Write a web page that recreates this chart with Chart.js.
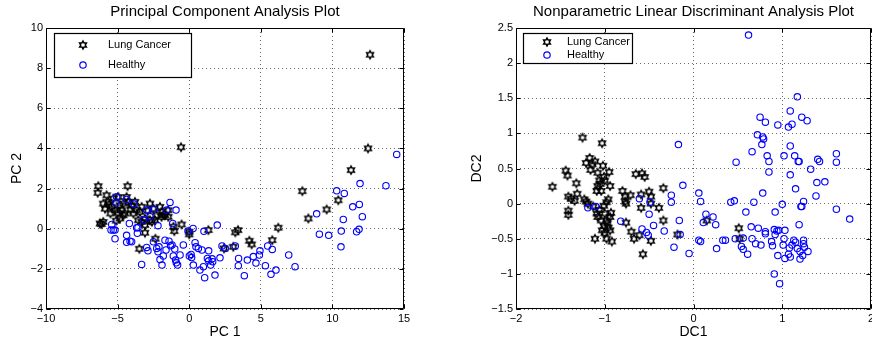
<!DOCTYPE html>
<html>
<head>
<meta charset="utf-8">
<title>PCA / LDA scatter</title>
<script src="https://cdn.jsdelivr.net/npm/chart.js@4.4.1/dist/chart.umd.min.js"></script>
<style>
  html, body { margin: 0; padding: 0; background: #fff; overflow: hidden; }
  #wrap { position: relative; width: 872px; height: 345px; overflow: hidden; }
  canvas { position: absolute; top: 0; }
  #pcaChart { left: 0; }
  #ldaChart { left: 436px; }
</style>
</head>
<body>
<div id="wrap">
  <canvas id="pcaChart" width="436" height="345"></canvas>
  <canvas id="ldaChart" width="480" height="345"></canvas>
</div>
<script>
"use strict";

// ---- data ----
const seriesNames = ["Lung Cancer", "Healthy"];

const pcaXTicks = [-10, -5, 0, 5, 10, 15];
const pcaYTicks = [-4, -2, 0, 2, 4, 6, 8, 10];
const ldaXTicks = [-2, -1, 0, 1, 2];
const ldaYTicks = [-1.5, -1, -0.5, 0, 0.5, 1, 1.5, 2, 2.5];

const pcaCancer = [
  [12.63, 8.67], [12.49, 4.0], [11.3, 2.92], [7.9, 1.87], [10.41, 1.42], [9.6, 0.96],
  [8.32, 0.51], [6.22, 0.05], [5.8, -0.57], [4.2, -0.6], [4.36, -0.78], [3.22, -0.18],
  [3.41, -0.07], [3.08, -0.9], [2.43, -0.98], [1.34, -0.07], [0.0, -0.28], [0.0, -0.15],
  [-0.57, 4.06], [-0.53, 0.21], [-1.1, 0.1], [-1.04, -0.12], [-3.48, -1.0], [-2.36, -0.5],
  [-3.09, -0.2], [-6.35, 2.12], [-6.39, 1.79], [-4.3, 2.12], [-5.77, 1.67], [-5.3, 1.5],
  [-4.95, 1.58], [-4.37, 1.58], [-6.0, 1.25], [-5.65, 1.34], [-5.88, 1.0], [-5.42, 1.09],
  [-5.19, 0.92], [-4.84, 1.17], [-4.72, 0.92], [-4.6, 1.25], [-4.26, 1.34], [-4.02, 1.17],
  [-3.79, 1.34], [-3.67, 0.92], [-3.32, 1.09], [-3.44, 0.84], [-2.74, 1.25], [-2.5, 1.0],
  [-3.56, 0.42], [-3.32, 0.34], [-3.09, 0.5], [-2.74, 0.42], [-3.09, 0.18], [-2.04, 1.09],
  [-1.93, 0.84], [-1.69, 0.67], [-1.46, 0.92], [-1.46, 0.59], [-1.93, 0.59], [-2.28, 0.67],
  [-2.39, 0.42], [-6.23, 0.26], [-6.0, 0.34], [-6.12, 0.23], [-5.1, 0.4], [-4.6, 0.67],
  [-5.5, 0.76], [-4.49, 0.76], [-3.9, 0.76], [-4.84, 0.51], [-5.6, 1.2], [-5.0, 0.8],
  [-4.1, 0.95], [-2.9, 0.9], [-1.8, 0.7], [-2.6, 0.35]
];

const pcaHealthy = [
  [14.49, 3.7], [13.74, 2.14], [11.93, 2.25], [10.3, 1.89], [10.83, 1.76], [11.42, 1.09],
  [11.88, 1.21], [12.09, 0.6], [10.76, 0.46], [8.9, 0.74], [9.09, -0.27], [9.74, -0.33],
  [10.62, -0.12], [10.6, -0.9], [11.69, -0.15], [11.86, -0.03], [6.95, -1.31], [7.39, -1.89],
  [6.06, -2.06], [5.71, -2.27], [5.32, -1.84], [5.8, -1.03], [5.48, -0.86], [4.94, -1.1],
  [4.9, -1.31], [4.66, -1.71], [4.48, -1.39], [4.06, -1.56], [3.85, -2.34], [3.45, -1.48],
  [3.43, -1.84], [3.22, -0.86], [2.52, -0.98], [2.29, -0.86], [2.15, -1.45], [1.96, 0.18],
  [1.8, -2.31], [1.64, -1.64], [1.5, -1.81], [1.36, -1.1], [1.27, -1.48], [1.08, -2.44],
  [0.99, -1.89], [0.75, -2.06], [0.89, -1.06], [0.64, -0.98], [0.41, -0.7], [0.47, -0.9],
  [0.27, 0.01], [0.01, -1.36], [0.13, -1.28], [0.17, -1.44], [0.29, -1.81], [1.03, -0.13],
  [-0.41, -0.81], [-0.64, -1.31], [-0.81, -1.81], [-0.95, -1.56], [-1.11, -1.36], [-1.01, -1.01],
  [-1.2, -0.81], [-1.41, -0.62], [-0.92, 0.93], [-1.34, 1.31], [-1.15, 0.26], [-1.69, -0.57],
  [-1.62, -1.06], [-1.81, -1.36], [-1.9, -1.81], [-2.04, -1.54], [-2.18, -1.15], [-2.27, -0.98],
  [-2.11, -0.9], [-2.5, -0.65], [-2.18, 0.15], [-2.74, 0.6], [-2.97, -0.93], [-2.88, -1.1],
  [-3.32, -1.78], [-3.2, 0.43], [-3.58, 0.05], [-3.62, -0.23], [-3.67, 0.05], [-4.02, -0.65],
  [-4.13, -0.62], [-4.37, -0.68], [-4.37, -0.33], [-4.18, 0.26], [-3.85, 1.23], [-4.37, 1.46],
  [-5.07, 1.59], [-5.11, 1.29], [-5.18, -0.07], [-5.18, -0.5], [-5.3, -0.07], [-5.46, -0.07],
  [-5.41, 0.21], [-2.97, 0.93], [-2.46, 0.98], [-1.57, 0.93], [-0.08, -0.12], [1.36, -1.6],
  [1.6, -1.5], [-1.3, -0.85], [-0.9, -1.7]
];

const ldaCancer = [
  [-1.25, 0.94], [-1.03, 0.86], [-1.17, 0.65], [-1.21, 0.58], [-1.11, 0.6], [-1.16, 0.48],
  [-1.08, 0.44], [-1.02, 0.54], [-0.95, 0.45], [-1.44, 0.47], [-1.42, 0.4], [-1.59, 0.24],
  [-1.32, 0.29], [-1.01, 0.38], [-1.0, 0.33], [-1.06, 0.33], [-1.08, 0.25], [-0.94, 0.25],
  [-1.09, 0.18], [-1.04, 0.18], [-1.31, 0.14], [-1.41, 0.1], [-1.38, 0.07], [-1.34, 0.04],
  [-1.23, 0.06], [-1.21, 0.03], [-1.19, 0.0], [-1.13, -0.04], [-0.96, 0.06], [-0.98, 0.02],
  [-1.01, -0.03], [-1.41, -0.1], [-1.41, -0.16], [-1.09, -0.14], [-1.06, -0.09], [-1.0, -0.14],
  [-0.93, -0.13], [-1.08, -0.19], [-1.04, -0.24], [-0.98, -0.24], [-0.94, -0.19], [-1.01, -0.32],
  [-0.96, -0.34], [-0.94, -0.38], [-1.0, -0.42], [-1.11, -0.5], [-0.98, -0.5], [-0.92, -0.54],
  [-0.8, 0.18], [-0.77, 0.1], [-0.77, 0.03], [-0.76, 0.0], [-0.71, 0.12], [-0.65, 0.42],
  [-0.58, 0.43], [-0.55, 0.38], [-0.59, 0.13], [-0.59, -0.06], [-0.5, 0.17], [-0.48, 0.1],
  [-0.48, 0.0], [-0.39, -0.06], [-0.34, 0.22], [-0.34, -0.24], [-0.76, -0.27], [-0.7, -0.4],
  [-0.67, -0.5], [-0.61, -0.45], [-0.48, -0.53], [-0.57, -0.72], [-0.18, -0.44], [0.51, -0.35],
  [0.52, -0.5], [0.15, -0.24], [-1.14, 0.56], [-1.05, 0.28], [-0.97, -0.28], [-1.03, -0.38]
];

const ldaHealthy = [
  [0.62, 2.4], [1.17, 1.52], [1.09, 1.32], [1.22, 1.23], [1.28, 1.18], [0.75, 1.23],
  [0.81, 1.16], [0.95, 1.12], [1.07, 1.09], [1.11, 1.13], [0.72, 0.98], [0.78, 0.95],
  [0.79, 0.92], [0.77, 0.84], [1.09, 0.82], [-0.17, 0.84], [0.66, 0.74], [1.02, 0.68],
  [0.83, 0.68], [1.14, 0.68], [1.18, 0.6], [1.19, 0.6], [1.61, 0.71], [1.61, 0.59],
  [1.4, 0.63], [1.42, 0.6], [0.85, 0.6], [0.48, 0.59], [1.32, 0.49], [0.85, 0.45],
  [1.09, 0.41], [1.39, 0.3], [1.48, 0.31], [1.15, 0.21], [0.78, 0.15], [1.38, 0.11],
  [1.24, 0.03], [1.0, -0.01], [0.42, 0.02], [0.46, 0.04], [0.68, 0.02], [1.21, -0.04],
  [1.22, -0.04], [1.61, -0.08], [1.76, -0.22], [0.59, -0.12], [0.92, -0.12], [1.19, -0.3],
  [-0.12, 0.26], [-0.25, 0.12], [-0.25, 0.02], [0.06, 0.15], [0.08, 0.03], [-0.61, 0.07],
  [-0.49, 0.02], [-0.5, -0.15], [-0.45, -0.31], [-0.33, -0.39], [-0.16, -0.24], [-0.15, -0.44],
  [-0.82, -0.25], [-0.58, -0.36], [-0.53, -0.41], [-0.51, -0.45], [-0.22, -0.62], [-0.05, -0.71],
  [0.14, -0.15], [0.22, -0.19], [0.11, -0.27], [0.25, -0.3], [0.06, -0.52], [0.08, -0.54],
  [0.26, -0.64], [0.33, -0.52], [0.36, -0.52], [0.47, -0.5], [0.56, -0.49], [0.54, -0.61],
  [0.56, -0.65], [0.61, -0.72], [0.65, -0.33], [0.73, -0.35], [0.66, -0.5], [0.7, -0.57],
  [0.76, -0.59], [0.81, -0.4], [0.81, -0.43], [0.88, -0.54], [0.89, -0.6], [0.91, -0.37],
  [0.94, -0.39], [0.96, -0.38], [0.92, -0.44], [1.03, -0.38], [1.02, -0.5], [1.01, -0.59],
  [0.95, -0.74], [1.03, -0.78], [0.91, -1.0], [0.97, -1.14], [1.13, -0.52], [1.15, -0.55],
  [1.11, -0.59], [1.08, -0.63], [1.07, -0.72], [1.09, -0.76], [1.17, -0.64], [1.2, -0.68],
  [1.2, -0.79], [1.23, -0.74], [1.24, -0.52], [1.25, -0.62], [1.29, -0.68], [1.24, -0.57],
  [-1.19, -0.06], [-1.1, -0.04]
];

// ---- look ----
const FONT = "'Liberation Sans', Arial, Helvetica, sans-serif";
const BLUE = "#0000ff";

// MATLAB style hexagram marker
function makeHexagram(r, color) {
  const size = Math.ceil(r * 2 + 4);
  const c = document.createElement("canvas");
  c.width = c.height = size;
  const g = c.getContext("2d");
  const cx = size / 2, cy = size / 2;
  g.beginPath();
  for (let i = 0; i < 12; i++) {
    const a = -Math.PI / 2 + (i * Math.PI) / 6;
    const rr = i % 2 === 0 ? r : r / Math.sqrt(3);
    const px = cx + rr * Math.cos(a), py = cy + rr * Math.sin(a);
    if (i === 0) g.moveTo(px, py); else g.lineTo(px, py);
  }
  g.closePath();
  g.strokeStyle = color;
  g.lineWidth = 1.5;
  g.lineJoin = "miter";
  g.stroke();
  return c;
}
const starImg = makeHexagram(3.9, "#000");

const minus = (v) => (v < 0 ? "\u2212" + Math.abs(v) : String(v));
const toPts = (arr) => arr.map(([x, y]) => ({ x, y }));

// box round the axes + inward tick marks
const frameAxes = {
  id: "frameAxes",
  afterDatasetsDraw(chart) {
    const { ctx, chartArea: a, scales } = chart;
    const L = Math.round(a.left) + 0.5, R = Math.round(a.right) - 0.5;
    const T = Math.round(a.top) + 0.5, B = Math.round(a.bottom) - 0.5;
    ctx.save();
    ctx.strokeStyle = "#000";
    ctx.lineWidth = 1;
    ctx.beginPath();
    ctx.rect(L, T, R - L, B - T);
    scales.x.ticks.forEach((t) => {
      const px = Math.round(scales.x.getPixelForValue(t.value)) + 0.5;
      ctx.moveTo(px, B); ctx.lineTo(px, B - 4);
      ctx.moveTo(px, T); ctx.lineTo(px, T + 4);
    });
    scales.y.ticks.forEach((t) => {
      const py = Math.round(scales.y.getPixelForValue(t.value)) + 0.5;
      ctx.moveTo(L, py); ctx.lineTo(L + 4, py);
      ctx.moveTo(R, py); ctx.lineTo(R - 4, py);
    });
    ctx.stroke();
    ctx.restore();
  },
};

// boxed legend inside the plot, like MATLAB's
const boxLegend = {
  id: "boxLegend",
  afterDraw(chart, args, o) {
    const { ctx, chartArea: a } = chart;
    const x = a.left + o.x, y = a.top + o.y;
    ctx.save();
    ctx.fillStyle = "#fff";
    ctx.fillRect(x, y, o.w, o.h);
    ctx.strokeStyle = "#000";
    ctx.lineWidth = 1.2;
    ctx.strokeRect(Math.round(x) + 0.5, Math.round(y) + 0.5, o.w, o.h);
    ctx.font = "11px " + FONT;
    ctx.textBaseline = "middle";
    ctx.fillStyle = "#000";
    seriesNames.forEach((name, i) => {
      const ry = y + o.row0 + i * o.rowGap;
      const mx = x + o.markerX;
      if (i === 0) {
        ctx.drawImage(starImg, mx - starImg.width / 2, ry - starImg.height / 2);
      } else {
        ctx.beginPath();
        ctx.arc(mx, ry, 3.2, 0, Math.PI * 2);
        ctx.strokeStyle = BLUE;
        ctx.stroke();
      }
      ctx.fillText(name, x + o.textX, ry);
    });
    ctx.restore();
  },
};

function axis(ticksArr, label, isX, titlePad, fitSize) {
  return {
    type: "linear",
    min: ticksArr[0],
    max: ticksArr[ticksArr.length - 1],
    afterBuildTicks: (s) => { s.ticks = ticksArr.map((v) => ({ value: v })); },
    afterFit: (s) => { if (isX) s.height = fitSize; else s.width = fitSize; },
    ticks: {
      color: "#000",
      font: { family: FONT, size: 11 },
      padding: 3,
      maxRotation: 0,
      autoSkip: false,
      callback: (v) => minus(v),
    },
    grid: { color: "rgba(0,0,0,0.6)", lineWidth: 1, drawTicks: false },
    border: { display: false, dash: [1, 3] },
    title: {
      display: true,
      text: label,
      color: "#000",
      font: { family: FONT, size: 14 },
      padding: titlePad,
    },
  };
}

function buildChart(id, cfg) {
  const ctx = document.getElementById(id).getContext("2d");
  return new Chart(ctx, {
    type: "scatter",
    data: {
      datasets: [
        {
          label: seriesNames[0],
          data: toPts(cfg.cancer),
          pointStyle: starImg,
          pointRadius: 4,
          borderColor: "#000",
          order: 1,
        },
        {
          label: seriesNames[1],
          data: toPts(cfg.healthy),
          pointStyle: "circle",
          pointRadius: 3.2,
          borderWidth: 1.1,
          borderColor: BLUE,
          backgroundColor: "rgba(0,0,0,0)",
          order: 0,
        },
      ],
    },
    options: {
      responsive: false,
      animation: false,
      events: [],
      layout: { padding: { left: 0, right: cfg.padRight, top: 0, bottom: 0 } },
      plugins: {
        legend: { display: false },
        tooltip: { enabled: false },
        title: {
          display: true,
          text: cfg.title,
          fullSize: false,
          color: "#000",
          font: { family: FONT, size: 15, weight: "normal" },
          padding: { top: 3, bottom: 7 },
        },
        boxLegend: cfg.legend,
      },
      scales: {
        x: axis(cfg.xTicks, cfg.xLabel, true, { top: 0, bottom: 4 }, 36),
        y: axis(cfg.yTicks, cfg.yLabel, false, { top: cfg.yTitlePad, bottom: 0 }, cfg.yWidth),
      },
    },
    plugins: [frameAxes, boxLegend],
  });
}

buildChart("pcaChart", {
  title: "Principal Component Analysis Plot",
  xLabel: "PC 1",
  yLabel: "PC 2",
  cancer: pcaCancer,
  healthy: pcaHealthy,
  xTicks: pcaXTicks,
  yTicks: pcaYTicks,
  yWidth: 46,
  yTitlePad: 9,
  padRight: 32,
  legend: { x: 8, y: 5, w: 137, h: 44, row0: 12, rowGap: 20, markerX: 29, textX: 54 },
});

buildChart("ldaChart", {
  title: "Nonparametric Linear Discriminant Analysis Plot",
  xLabel: "DC1",
  yLabel: "DC2",
  cancer: ldaCancer,
  healthy: ldaHealthy,
  xTicks: ldaXTicks,
  yTicks: ldaYTicks,
  yWidth: 80,
  yTitlePad: 33,
  padRight: 45,
  legend: { x: 7, y: 5, w: 109, h: 30, row0: 9, rowGap: 13, markerX: 24, textX: 44 },
});
</script>
</body>
</html>
